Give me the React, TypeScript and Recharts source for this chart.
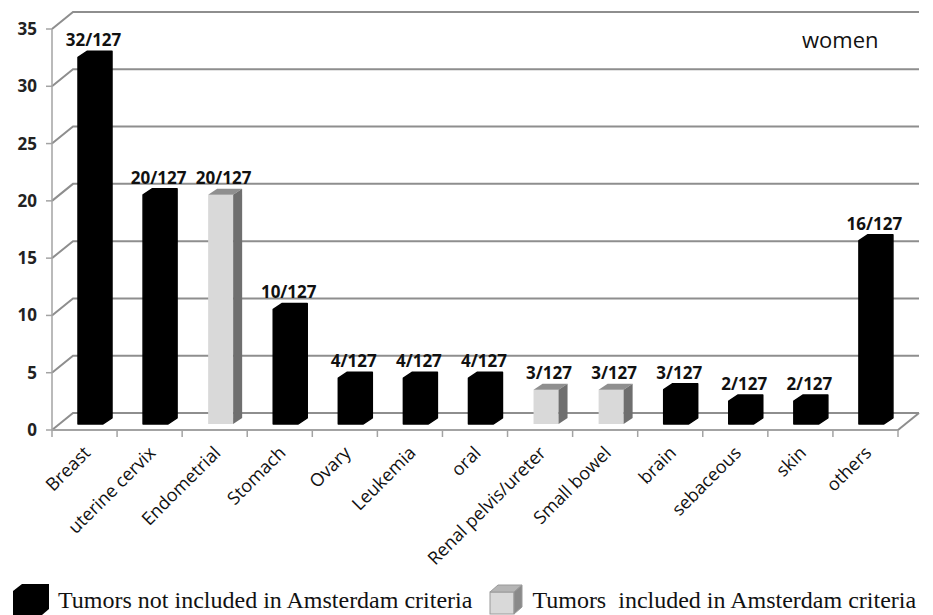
import { BarChart, Bar, XAxis, YAxis, CartesianGrid, Legend, LabelList } from "recharts";

const categories = [
  "Breast",
  "uterine cervix",
  "Endometrial",
  "Stomach",
  "Ovary",
  "Leukemia",
  "oral",
  "Renal pelvis/ureter",
  "Small bowel",
  "brain",
  "sebaceous",
  "skin",
  "others",
];
const notIncluded = [32, 20, null, 10, 4, 4, 4, null, null, 3, 2, 2, 16];
const included = [null, null, 20, null, null, null, null, 3, 3, null, null, null, null];
const totalWomen = 127;
const yTicks = [0, 5, 10, 15, 20, 25, 30, 35];
const legendOrder = ["notIncluded", "included"];

const data = categories.map((name, i) => ({
  name,
  notIncluded: notIncluded[i],
  included: included[i],
}));

const W = 933;
const H = 615;
const PLOT_LEFT = 52;
const PLOT_RIGHT = 35;
const BAND = (W - PLOT_LEFT - PLOT_RIGHT) / categories.length;

// 3d look: back wall offset and bar depth
const WALL_DX = 21;
const WALL_DY = 17;
const BAR_DX = 9;
const BAR_DY = 6;
const BAR_SHIFT_X = 6;
const BAR_SHIFT_Y = -6;

const SANS = '"Open Sans", "Liberation Sans", sans-serif';
const SERIF = '"Liberation Serif", "Times New Roman", serif';
const GRID = "#8e8e8e";
const AXIS = "#a3a3a3";

const gridLine = (p: any) => {
  const { x1, y1, x2, y2 } = p;
  return (
    <path
      key={`g-${y1}`}
      d={`M${x1},${y1}L${x1 + WALL_DX},${y1 - WALL_DY}L${x2 + WALL_DX},${y2 - WALL_DY}`}
      fill="none"
      stroke={GRID}
      strokeWidth={2}
    />
  );
};

const Box = (p: any) => {
  const { x, y, width, height, dark } = p;
  if (!height || height <= 0 || isNaN(height)) return <g />;
  const x0 = x + BAR_SHIFT_X;
  const y0 = y + BAR_SHIFT_Y;
  const x1 = x0 + width;
  const y1 = y0 + height;
  if (dark) {
    const pts = [
      [x0, y1],
      [x0, y0],
      [x0 + BAR_DX, y0 - BAR_DY],
      [x1 + BAR_DX, y0 - BAR_DY],
      [x1 + BAR_DX, y1 - BAR_DY],
      [x1, y1],
    ];
    return <polygon points={pts.map((q) => q.join(",")).join(" ")} fill="#000" stroke="#000" strokeLinejoin="round" strokeWidth={1.5} />;
  }
  return (
    <g>
      <rect x={x0} y={y0} width={width} height={height} fill="#d9d9d9" />
      <polygon
        points={`${x0},${y0} ${x0 + BAR_DX},${y0 - BAR_DY} ${x1 + BAR_DX},${y0 - BAR_DY} ${x1},${y0}`}
        fill="#8f8f8f"
      />
      <polygon
        points={`${x1},${y0} ${x1 + BAR_DX},${y0 - BAR_DY} ${x1 + BAR_DX},${y1 - BAR_DY} ${x1},${y1}`}
        fill="#6f6f6f"
      />
    </g>
  );
};

const valueLabel = (p: any) => {
  const { x, y, width, value } = p;
  if (value == null || value === 0) return null;
  return (
    <text
      x={x + width / 2 + BAR_SHIFT_X + 3}
      y={y + BAR_SHIFT_Y - 11}
      textAnchor="middle"
      fontFamily={SANS}
      fontWeight={700}
      fontSize={17}
      fill="#111"
    >
      {`${value}/${totalWomen}`}
    </text>
  );
};

const CategoryTick = (p: any) => {
  const { x, y, payload, index } = p;
  const left = x - BAND / 2;
  const right = x + BAND / 2;
  const last = index === categories.length - 1;
  const tx = x + 7;
  const ty = y + 24;
  return (
    <g>
      <line x1={left} y1={y} x2={left} y2={y + 7} stroke={AXIS} strokeWidth={1.5} />
      {last && (
        <>
          <line x1={right} y1={y} x2={right} y2={y + 7} stroke={AXIS} strokeWidth={1.5} />
          <line x1={right} y1={y} x2={right + WALL_DX} y2={y - WALL_DY} stroke={GRID} strokeWidth={2} />
        </>
      )}
      <text
        x={tx}
        y={ty}
        transform={`rotate(-45 ${tx} ${ty})`}
        textAnchor="end"
        fontFamily={SANS}
        fontSize={18}
        fill="#111"
      >
        {payload.value}
      </text>
    </g>
  );
};

const LegendIcon = ({ dark }: { dark: boolean }) =>
  dark ? (
    <svg width={36} height={32} style={{ display: "block" }}>
      <polygon points="0,32 0,8 9,1 36,1 36,26 29,32" fill="#000" />
    </svg>
  ) : (
    <svg width={36} height={31} style={{ display: "block" }}>
      <rect x={3} y={8} width={24} height={22} fill="#d9d9d9" stroke="#9a9a9a" />
      <polygon points="3,8 11,1 35,1 27,8" fill="#b5b5b5" stroke="#9a9a9a" />
      <polygon points="27,8 35,1 35,23 27,30" fill="#8a8a8a" stroke="#9a9a9a" />
    </svg>
  );

const LegendContent = (props: any) => {
  const items = [...(props.payload || [])].sort(
    (a: any, b: any) => legendOrder.indexOf(a.dataKey) - legendOrder.indexOf(b.dataKey)
  );
  return (
    <div
      style={{
        display: "flex",
        alignItems: "flex-end",
        fontFamily: SERIF,
        fontSize: 24,
        color: "#111",
        whiteSpace: "pre",
        paddingLeft: 13,
        height: 35,
      }}
    >
      {items.map((it: any, i: number) => (
        <div key={i} style={{ display: "flex", alignItems: "flex-end", marginRight: i === 0 ? 15 : 0 }}>
          <LegendIcon dark={it.dataKey === "notIncluded"} />
          <span style={{ marginLeft: 9, lineHeight: "30px" }}>{it.value}</span>
        </div>
      ))}
    </div>
  );
};

export default function App() {
  return (
    <div style={{ position: "absolute", left: 0, top: 0, width: W, height: H, background: "#fff" }}>
      <BarChart
        width={W}
        height={H}
        data={data}
        margin={{ top: 29, right: PLOT_RIGHT, left: 0, bottom: 10 }}
        barSize={25}
      >
        <CartesianGrid vertical={false} horizontal={gridLine} />
        <XAxis
          dataKey="name"
          interval={0}
          height={140}
          tickLine={false}
          tickSize={0}
          tickMargin={0}
          axisLine={{ stroke: AXIS, strokeWidth: 2 }}
          tick={<CategoryTick />}
        />
        <YAxis
          width={PLOT_LEFT}
          domain={[0, 35]}
          ticks={yTicks}
          interval={0}
          tickSize={6}
          tickMargin={9}
          axisLine={{ stroke: AXIS, strokeWidth: 1.5 }}
          tickLine={{ stroke: AXIS, strokeWidth: 1.5 }}
          tick={{ fontFamily: SANS, fontSize: 17, fontWeight: 700, fill: "#222" }}
        />
        <Legend
          verticalAlign="bottom"
          content={<LegendContent />}
          wrapperStyle={{ left: 0, width: W, height: 35, bottom: 0 }}
        />
        <Bar
          dataKey="notIncluded"
          name="Tumors not included in Amsterdam criteria"
          stackId="s"
          fill="#000"
          isAnimationActive={false}
          shape={(p: any) => <Box {...p} dark />}
        >
          <LabelList dataKey="notIncluded" content={valueLabel} />
        </Bar>
        <Bar
          dataKey="included"
          name="Tumors  included in Amsterdam criteria"
          stackId="s"
          fill="#d9d9d9"
          isAnimationActive={false}
          shape={(p: any) => <Box {...p} dark={false} />}
        >
          <LabelList dataKey="included" content={valueLabel} />
        </Bar>
      </BarChart>
      <div
        style={{
          position: "absolute",
          left: 802,
          top: 24,
          fontFamily: SANS,
          fontSize: 22,
          color: "#111",
          lineHeight: "30px",
        }}
      >
        women
      </div>
    </div>
  );
}
